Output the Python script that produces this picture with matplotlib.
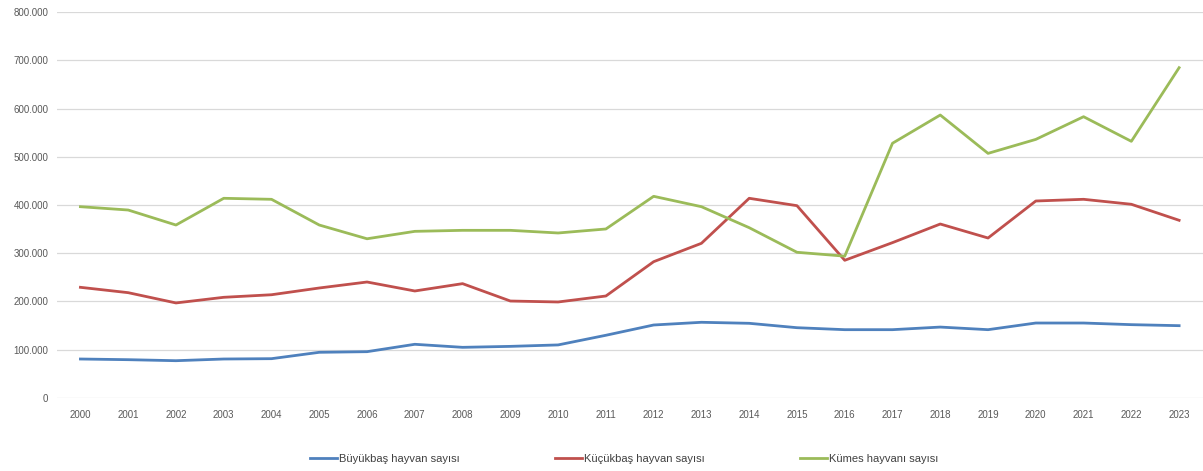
import matplotlib.pyplot as plt
from matplotlib.ticker import FuncFormatter

years = list(range(2000, 2024))
buyukbas = [80800, 79400, 77300, 80800, 81500, 94700, 96000, 111300, 105000, 107000, 110000,
            130000, 151300, 156900, 154800, 145700, 141600, 141600, 147000, 141600, 155400,
            155400, 152000, 149900]
kucukbas = [229400, 218300, 197000, 208700, 214000, 228000, 240400, 221800, 237000, 201000,
            199000, 211400, 282500, 320600, 413900, 398600, 285400, 322000, 360600, 331600,
            408300, 411800, 401500, 368300]
kumes = [396500, 389600, 358500, 413900, 411800, 358500, 330000, 345400, 347500, 347500,
         342000, 350300, 418000, 396500, 353000, 302000, 294000, 528000, 586500, 507000,
         536000, 583000, 532000, 684600]

plt.rcParams['font.family'] = ['Liberation Sans', 'DejaVu Sans']

fig = plt.figure(figsize=(12.03, 4.71), dpi=100)
ax = fig.add_axes([0.047, 0.155, 0.953, 0.8195])

x = range(len(years))
ax.plot(x, buyukbas, color='#4F81BD', lw=2.0, label='Büyükbaş hayvan sayısı')
ax.plot(x, kucukbas, color='#C0504D', lw=2.0, label='Küçükbaş hayvan sayısı')
ax.plot(x, kumes, color='#9BBB59', lw=2.0, label='Kümes hayvanı sayısı')

ax.set_xlim(-0.5, len(years) - 0.5)
ax.set_ylim(0, 800000)
ax.set_yticks(range(0, 800001, 100000))
ax.yaxis.set_major_formatter(FuncFormatter(lambda v, p: f'{int(v):,}'.replace(',', '.')))
ax.set_xticks(list(x))
ax.set_xticklabels([str(y) for y in years])
ax.grid(axis='y', color='#d9d9d9', lw=0.9)
ax.set_axisbelow(True)
for s in ax.spines.values():
    s.set_visible(False)
ax.tick_params(length=0, labelsize=7, colors='#595959', pad=9)
ax.tick_params(axis='y', pad=6)

fig.legend(loc='center', bbox_to_anchor=(0.519, 0.025), ncol=3, frameon=False,
           fontsize=8, handlelength=2.4, handletextpad=0.2, columnspacing=8.6,
           labelcolor='#404040')

fig.savefig('out.png', dpi=100)
